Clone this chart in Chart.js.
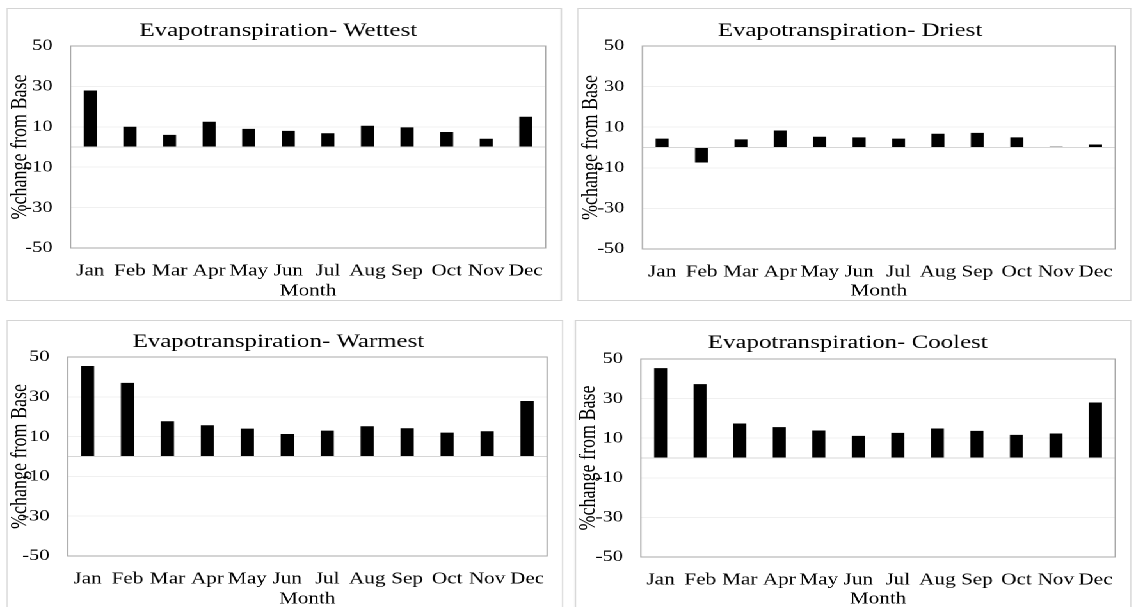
<!DOCTYPE html>
<html><head><meta charset="utf-8">
<script src="https://cdn.jsdelivr.net/npm/chart.js@4.4.1/dist/chart.umd.min.js"></script>
<style>
html,body{margin:0;padding:0;background:#fff;overflow:hidden;width:1132px;height:607px;}
#stage{position:absolute;left:0;top:0;height:607px;transform-origin:0 0;}
.panel{position:absolute;box-sizing:border-box;border:1px solid #d4d4d4;background:#fff;}
.panel canvas{position:absolute;left:0;top:0;}
</style></head><body><div id="stage"></div>
<script>
// ---- data ----
const months = ['Jan','Feb','Mar','Apr','May','Jun','Jul','Aug','Sep','Oct','Nov','Dec'];
const titles = ['Evapotranspiration- Wettest','Evapotranspiration- Driest','Evapotranspiration- Warmest','Evapotranspiration- Coolest'];
const wettest = [28, 10, 6, 12.5, 9, 8, 6.8, 10.5, 9.7, 7.4, 4.1, 15];
const driest  = [4.4, -7.4, 4, 8.4, 5.3, 5, 4.4, 6.8, 7.2, 5, 0.4, 1.5];
const warmest = [45.5, 37, 17.7, 15.7, 14, 11.3, 13, 15.2, 14.2, 12, 12.7, 27.9];
const coolest = [45.4, 37.3, 17.4, 15.6, 13.9, 11.2, 12.7, 14.9, 13.7, 11.7, 12.4, 28];
const yTickValues = [-50, -30, -10, 10, 30, 50];
const yTitle = '%change from Base';
const xTitle = 'Month';
const seriesList = [wettest, driest, warmest, coolest];

// ---- layout (final pixel coordinates) ----
const SX = 1.28;
const layoutSpec = [
  {box:[7,8,562,301],   plot:[71,46,549,248],   titleMid:31,  monthMid:291.4},
  {box:[577,8,1131,301],plot:[642,46,1121,249], titleMid:31,  monthMid:291.4},
  {box:[7,320,563,620], plot:[68,357,549,556],  titleMid:342, monthMid:599.4},
  {box:[575,320,1131,620],plot:[641,359,1119,557],titleMid:343, monthMid:599.4}
];
const FONT = 'Liberation Serif';
const TITLE_SIZE = 19.4, TICK_Y = 16, TICK_X = 16.5, YT_SIZE = 18, XT_SIZE = 16.5;
const TEXT = '#000000';

const stage = document.getElementById('stage');
stage.style.width = (1132 / SX) + 'px';
stage.style.transform = 'scaleX(' + SX + ')';

const plotBorder = {
  id: 'plotBorder',
  beforeDatasetsDraw(chart) {
    const a = chart.chartArea, ctx = chart.ctx;
    ctx.save();
    ctx.strokeStyle = '#a8a8a8';
    ctx.lineWidth = 1;
    ctx.strokeRect(a.left, a.top, a.right - a.left, a.bottom - a.top);
    ctx.restore();
  }
};

layoutSpec.forEach((g, i) => {
  const [bl, bt, br, bb] = g.box;
  const [pl, pt, pr, pb] = g.plot;
  const divW = (br - bl) / SX, divH = bb - bt;
  const div = document.createElement('div');
  div.className = 'panel';
  div.style.left = (bl / SX) + 'px';
  div.style.top = bt + 'px';
  div.style.width = divW + 'px';
  div.style.height = divH + 'px';
  stage.appendChild(div);
  const cw = divW - 2, ch = divH - 2;
  const cv = document.createElement('canvas');
  cv.width = cw; cv.height = ch;
  cv.style.width = cw + 'px'; cv.style.height = ch + 'px';
  div.appendChild(cv);

  const plotLeftC = (pl - bl) / SX - 1;
  const plotRightC = (pr - bl) / SX - 1;
  const plotTopC = pt - bt - 1;
  const plotBottomC = pb - bt - 1;
  const titleLH = TITLE_SIZE * 1.2;
  const titleMidC = g.titleMid - bt - 1;
  const tPadTop = titleMidC - titleLH / 2;
  const tPadBot = plotTopC - tPadTop - titleLH;
  const xAxisH = ch - plotBottomC;
  const monthMidC = g.monthMid - bt - 1;
  const xtPadBot = ch - monthMidC - XT_SIZE / 2;

  new Chart(cv, {
    type: 'bar',
    data: {
      labels: months,
      datasets: [{
        data: seriesList[i],
        backgroundColor: '#000000',
        borderWidth: 0,
        barPercentage: 0.33,
        categoryPercentage: 1
      }]
    },
    options: {
      responsive: false,
      animation: false,
      devicePixelRatio: 2,
      layout: {padding: {left: 0, top: 0, bottom: 0, right: cw - plotRightC}},
      plugins: {
        legend: {display: false},
        tooltip: {enabled: false},
        title: {
          display: true, text: titles[i], color: TEXT,
          font: {family: FONT, size: TITLE_SIZE, weight: 'normal', lineHeight: 1.2},
          padding: {top: tPadTop, bottom: tPadBot}
        }
      },
      scales: {
        x: {
          grid: {display: false, drawTicks: false},
          border: {display: false},
          ticks: {color: TEXT, padding: 13.5, maxRotation: 0, autoSkip: false,
                  font: {family: FONT, size: TICK_X, lineHeight: 1.2}},
          title: {display: true, text: xTitle, color: TEXT,
                  font: {family: FONT, size: XT_SIZE, lineHeight: 1.0},
                  padding: {top: 0, bottom: xtPadBot}},
          afterFit(scale) { scale.height = xAxisH; }
        },
        y: {
          min: -50, max: 50,
          afterBuildTicks(scale) {
            scale.ticks = yTickValues.concat([0]).sort((a, b) => a - b).map(v => ({value: v}));
          },
          grid: {
            drawTicks: false,
            color: ctx => (ctx.tick && ctx.tick.value === 0) ? '#d6d6d6' : '#f0f0f0',
            lineWidth: 1
          },
          border: {display: false},
          ticks: {
            color: TEXT, padding: 14,
            font: {family: FONT, size: TICK_Y},
            callback: v => (v === 0 ? '' : String(v))
          },
          title: {display: true, text: yTitle, color: TEXT,
                  font: {family: FONT, size: YT_SIZE, lineHeight: 1.0},
                  padding: {top: 0.6, bottom: 0}},
          afterFit(scale) { scale.width = plotLeftC; }
        }
      }
    },
    plugins: [plotBorder]
  });
});
</script></body></html>
